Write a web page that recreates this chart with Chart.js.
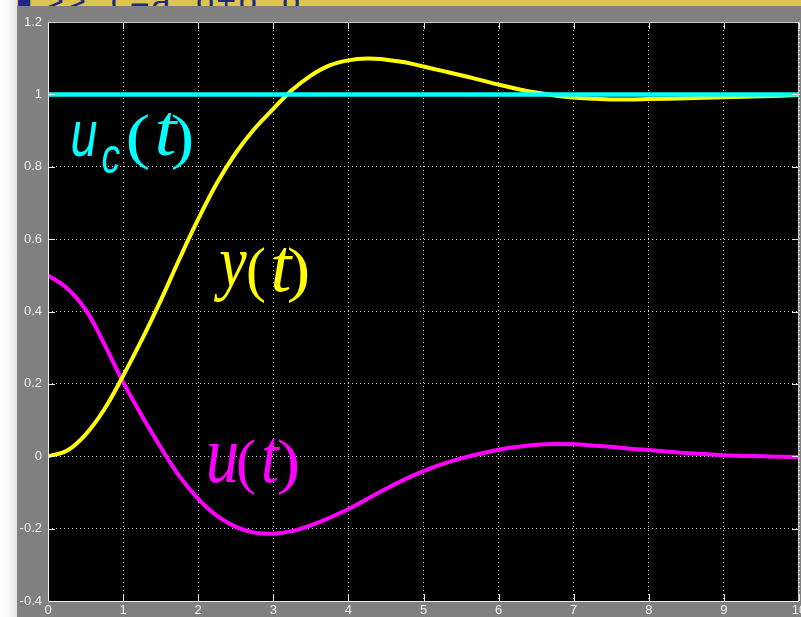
<!DOCTYPE html>
<html>
<head>
<meta charset="utf-8">
<script src="https://cdn.jsdelivr.net/npm/chart.js@4.4.1/dist/chart.umd.min.js"></script>
<style>
  html, body { margin: 0; padding: 0; }
  body {
    width: 801px; height: 617px; overflow: hidden; position: relative;
    background: linear-gradient(to right, #ffffff 0, #f8f8f8 9px, #e4e4e4 17px, #e4e4e4 100%);
  }
  #titlebar {
    position: absolute; left: 17px; top: 0; width: 784px; height: 6px;
    background: #dcc450;
  }
  #cmd {
    position: absolute; left: 17px; top: 0; width: 300px; height: 9px; overflow: hidden;
  }
  #cmd span {
    position: absolute; left: 1px; bottom: -8px;
    font: 34px "Liberation Sans", Arial, sans-serif; color: #1c2a86; white-space: nowrap;
    line-height: 34px; letter-spacing: 2px;
  }
  #scope {
    position: absolute; left: 17px; top: 6px; background: #808080; display: block;
  }
</style>
</head>
<body>
<div id="titlebar"></div>
<div id="cmd"><span>▌&gt;&gt;&nbsp; c=a&nbsp;&nbsp;b+b&nbsp;&nbsp;d</span></div>
<canvas id="scope" width="784" height="611"></canvas>
<script>
// time axis samples (s)
const times = [0, 0.25, 0.5, 0.75, 1, 1.25, 1.5, 1.75, 2, 2.25, 2.5, 2.75, 3, 3.25, 3.5, 3.75,
  4, 4.25, 4.5, 4.75, 5, 5.25, 5.5, 5.75, 6, 6.25, 6.5, 6.75, 7, 7.25, 7.5, 7.75,
  8, 8.5, 9, 9.5, 10];

// plant output y(t)
const yOut = [0, 0.015, 0.06, 0.13, 0.222, 0.322, 0.43, 0.545, 0.655, 0.755, 0.838, 0.905, 0.96, 1.012, 1.052, 1.08,
  1.094, 1.099, 1.096, 1.089, 1.077, 1.065, 1.053, 1.04, 1.027, 1.015, 1.005, 0.997, 0.991, 0.988, 0.986, 0.986,
  0.987, 0.989, 0.992, 0.995, 0.998];

// control signal u(t)
const uCtrl = [0.5, 0.465, 0.405, 0.31, 0.205, 0.112, 0.025, -0.055, -0.118, -0.165, -0.195, -0.211, -0.214, -0.207, -0.191, -0.17,
  -0.146, -0.118, -0.09, -0.064, -0.041, -0.022, -0.006, 0.007, 0.018, 0.026, 0.032, 0.034, 0.033, 0.03, 0.026, 0.021,
  0.017, 0.009, 0.003, 0, -0.002];

// reference step u_c(t)
const refTimes = [0, 10];
const ucRef = [1, 1];

const xTicks = [0, 1, 2, 3, 4, 5, 6, 7, 8, 9, 10];
const yTicks = [-0.4, -0.2, 0, 0.2, 0.4, 0.6, 0.8, 1, 1.2];
const yTickLabels = ["-0.4", "-0.2", "0", "0.2", "0.4", "0.6", "0.8", "1", "1.2"];

const TICK_TEXT = "#ececec";
const GRID_DOTS = "rgba(235,235,235,0.9)";

const toPoints = (xs, ys) => xs.map((x, i) => ({ x, y: ys[i] }));

// black plot area behind the traces
const plotBackground = {
  id: "plotBackground",
  beforeDraw(chart) {
    const { ctx, chartArea: a } = chart;
    ctx.save();
    ctx.fillStyle = "#000";
    ctx.fillRect(a.left, a.top, a.right - a.left, a.bottom - a.top);
    ctx.restore();
  },
};

// frame and the short inward tick stubs
const scopeFrame = {
  id: "scopeFrame",
  afterDatasetsDraw(chart) {
    const { ctx, chartArea: a, scales } = chart;
    const len = 7;
    ctx.save();
    ctx.lineWidth = 1;
    ctx.strokeStyle = "#e6e6e6";
    ctx.beginPath();
    xTicks.forEach((v) => {
      const px = Math.round(scales.x.getPixelForValue(v)) + 0.5;
      ctx.moveTo(px, a.bottom); ctx.lineTo(px, a.bottom - len);
      ctx.moveTo(px, a.top); ctx.lineTo(px, a.top + len);
    });
    yTicks.forEach((v) => {
      const py = Math.round(scales.y.getPixelForValue(v)) + 0.5;
      ctx.moveTo(a.left, py); ctx.lineTo(a.left + len, py);
      ctx.moveTo(a.right, py); ctx.lineTo(a.right - len, py);
    });
    ctx.stroke();

    const l = Math.round(a.left) + 0.5, r = Math.round(a.right) - 0.5;
    const t = Math.round(a.top) + 0.5, b = Math.round(a.bottom) + 0.5;
    ctx.strokeStyle = "#c8c8c8";
    ctx.beginPath();
    ctx.moveTo(l, t); ctx.lineTo(r, t); ctx.lineTo(r, b);
    ctx.stroke();
    ctx.strokeStyle = "#f0f0f0";
    ctx.beginPath();
    ctx.moveTo(l, t); ctx.lineTo(l, b); ctx.lineTo(r, b);
    ctx.stroke();
    ctx.restore();
  },
};

// draw one glyph stretched into a box [x0, y0, x1, y1]
function fitGlyph(ctx, ch, font, color, box) {
  ctx.save();
  ctx.font = font;
  ctx.textAlign = "left";
  ctx.textBaseline = "alphabetic";
  const m = ctx.measureText(ch);
  const w = m.actualBoundingBoxLeft + m.actualBoundingBoxRight;
  const h = m.actualBoundingBoxAscent + m.actualBoundingBoxDescent;
  const sx = (box[2] - box[0]) / w;
  const sy = (box[3] - box[1]) / h;
  ctx.translate(box[0] + m.actualBoundingBoxLeft * sx, box[1] + m.actualBoundingBoxAscent * sy);
  ctx.scale(sx, sy);
  ctx.fillStyle = color;
  ctx.fillText(ch, 0, 0);
  ctx.restore();
}

const SERIF_I = 'italic 60px "Liberation Serif", "Times New Roman", serif';
const SERIF = '60px "Liberation Serif", "Times New Roman", serif';
const SANS_I = 'italic 60px "Liberation Sans", Arial, sans-serif';

const signalLabels = [
  { color: "#00ffff", glyphs: [
    ["u", SANS_I, [55, 116, 80, 151]],
    ["c", SANS_I, [85, 141, 103, 168]],
    ["(", SERIF, [111, 107, 132, 164]],
    ["t", SERIF_I, [140, 107, 161, 150]],
    [")", SERIF, [155, 107, 175, 164]],
  ] },
  { color: "#ffff00", glyphs: [
    ["y", SERIF_I, [196, 247, 230, 296]],
    ["(", SERIF, [231, 241, 248, 297]],
    ["t", SERIF_I, [256, 241, 276, 286]],
    [")", SERIF, [271, 241, 291, 297]],
  ] },
  { color: "#ff00ff", glyphs: [
    ["u", SERIF_I, [191, 439, 220, 477]],
    ["(", SERIF, [221, 432, 238, 489]],
    ["t", SERIF_I, [246, 432, 263, 477]],
    [")", SERIF, [261, 432, 281, 489]],
  ] },
];

const signalNames = {
  id: "signalNames",
  afterDraw(chart) {
    const ctx = chart.ctx;
    signalLabels.forEach((lab) => {
      lab.glyphs.forEach(([ch, font, box]) => fitGlyph(ctx, ch, font, lab.color, box));
    });
  },
};

const tickFont = { family: '"Liberation Sans", Arial, sans-serif', size: 13 };

new Chart(document.getElementById("scope"), {
  type: "line",
  data: {
    datasets: [
      {
        label: "u_c(t)",
        data: toPoints(refTimes, ucRef),
        borderColor: "#00ffff",
        borderWidth: 4.5,
        pointRadius: 0,
        tension: 0,
        order: 0,
      },
      {
        label: "y(t)",
        data: toPoints(times, yOut),
        borderColor: "#ffff00",
        borderWidth: 4,
        pointRadius: 0,
        tension: 0.4,
        order: 1,
      },
      {
        label: "u(t)",
        data: toPoints(times, uCtrl),
        borderColor: "#ff00ff",
        borderWidth: 4,
        pointRadius: 0,
        tension: 0.4,
        order: 2,
      },
    ],
  },
  options: {
    responsive: false,
    animation: false,
    devicePixelRatio: 1,
    layout: { padding: { left: 0, top: 16, right: 2, bottom: 0 } },
    plugins: {
      legend: { display: false },
      tooltip: { enabled: false },
    },
    scales: {
      x: {
        type: "linear",
        min: 0,
        max: 10,
        afterBuildTicks(scale) {
          scale.ticks = xTicks.map((value) => ({ value }));
        },
        afterFit(scale) {
          scale.height = 16;
          scale.paddingLeft = 0;
          scale.paddingRight = 0;
          scale.paddingTop = 0;
          scale.paddingBottom = 0;
        },
        ticks: {
          color: TICK_TEXT,
          font: tickFont,
          padding: 2,
          maxRotation: 0,
          autoSkip: false,
          callback: (value) => String(value),
        },
        grid: { color: GRID_DOTS, lineWidth: 1, drawTicks: false },
        border: { display: false, dash: [1, 3] },
      },
      y: {
        type: "linear",
        min: -0.4,
        max: 1.2,
        afterBuildTicks(scale) {
          scale.ticks = yTicks.map((value) => ({ value }));
        },
        afterFit(scale) {
          scale.width = 31;
          scale.paddingLeft = 0;
          scale.paddingRight = 0;
          scale.paddingTop = 0;
          scale.paddingBottom = 0;
        },
        ticks: {
          color: TICK_TEXT,
          font: tickFont,
          padding: 6,
          autoSkip: false,
          callback: (value, index) => yTickLabels[index],
        },
        grid: { color: GRID_DOTS, lineWidth: 1, drawTicks: false },
        border: { display: false, dash: [1, 3] },
      },
    },
  },
  plugins: [plotBackground, scopeFrame, signalNames],
});
</script>
</body>
</html>
